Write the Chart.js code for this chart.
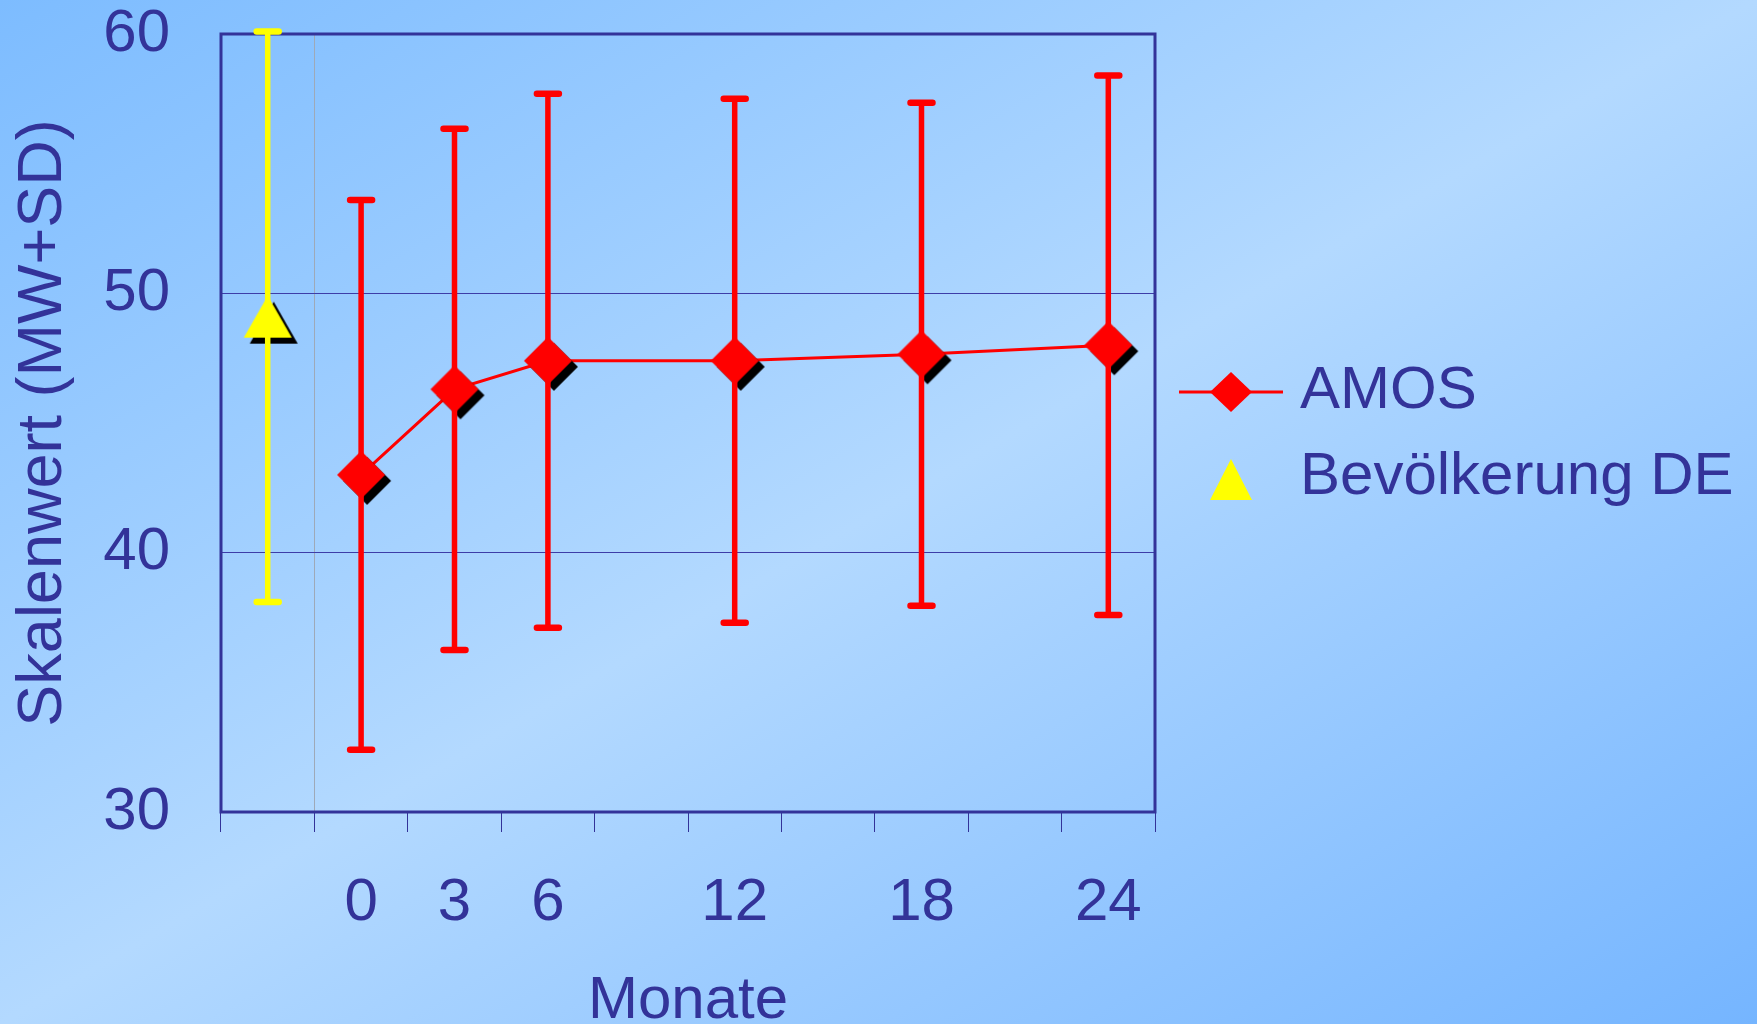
<!DOCTYPE html>
<html>
<head>
<meta charset="utf-8">
<script src="https://cdn.jsdelivr.net/npm/chart.js@4.4.1/dist/chart.umd.min.js"></script>
<style>
html, body { margin: 0; padding: 0; }
body {
    width: 1757px; height: 1024px; overflow: hidden;
    background: linear-gradient(to bottom right, #7dbcff 0%, #b3d9ff 50%, #75b5ff 100%);
}
</style>
</head>
<body>
<canvas id="chart-1" width="1757" height="1024"></canvas>
<script>
// x slots: the reference population sits left of the month grid
var slots = ["DE", "0", "3", "6", "9", "12", "15", "18", "21", "24"];
var months = ["0", "3", "6", "12", "18", "24"];
var amosMean = [43.0, 46.3, 47.4, 47.4, 47.65, 48.0];
var amosSD = [10.6, 10.05, 10.3, 10.1, 9.7, 10.4];
var deMean = [49.1];
var deSD = [11.0];
var yTicks = [30, 40, 50, 60];

var textColor = "#333399";
Chart.defaults.font.family = "'Liberation Sans', Arial, sans-serif";

// marker with a black drop shadow, drawn once and used as pointStyle
function marker(kind, fill) {
    var c = document.createElement("canvas");
    c.width = 72; c.height = 72;
    var g = c.getContext("2d");
    function shape(d) {
        g.beginPath();
        if (kind == "diamond") {
            g.moveTo(36 + d, 12 + d); g.lineTo(60 + d, 36 + d);
            g.lineTo(36 + d, 60 + d); g.lineTo(12 + d, 36 + d);
        } else {
            g.moveTo(36 + d, 15 + d); g.lineTo(60 + d, 57 + d); g.lineTo(12 + d, 57 + d);
        }
        g.closePath();
    }
    shape(6); g.fillStyle = "#000"; g.fill();
    shape(0); g.fillStyle = fill; g.fill();
    return c;
}

var framePlugin = {
    id: "frame",
    beforeDatasetsDraw: function(chart) {
        var a = chart.chartArea, ctx = chart.ctx;
        ctx.save();
        ctx.strokeStyle = textColor;
        ctx.lineWidth = 3;
        ctx.strokeRect(a.left, a.top, a.right - a.left, a.bottom - a.top);
        ctx.restore();
    }
};

var errorBars = {
    id: "errorBars",
    afterDatasetsDraw: function(chart) {
        var ctx = chart.ctx, ys = chart.scales.y;
        ctx.save();
        chart.data.datasets.forEach(function(ds, di) {
            chart.getDatasetMeta(di).data.forEach(function(pt, i) {
                var v = ds.data[i].y, s = ds.sd[i];
                var yt = ys.getPixelForValue(v + s);
                var yb = ys.getPixelForValue(v - s);
                ctx.strokeStyle = ds.barColor;
                ctx.lineCap = "butt";
                ctx.lineWidth = 5.5;
                ctx.beginPath();
                ctx.moveTo(pt.x, yt); ctx.lineTo(pt.x, yb);
                ctx.stroke();
                ctx.lineCap = "round";
                ctx.lineWidth = 6.5;
                ctx.beginPath();
                ctx.moveTo(pt.x - 11, yt); ctx.lineTo(pt.x + 11, yt);
                ctx.moveTo(pt.x - 11, yb); ctx.lineTo(pt.x + 11, yb);
                ctx.stroke();
            });
        });
        ctx.restore();
    }
};

var legendPlugin = {
    id: "sideLegend",
    afterDraw: function(chart) {
        var a = chart.chartArea, ctx = chart.ctx;
        var mx = a.right + 76;
        ctx.save();
        // AMOS: line with diamond
        var y1 = a.top + 358;
        ctx.strokeStyle = "#ff0000";
        ctx.lineWidth = 3;
        ctx.beginPath();
        ctx.moveTo(a.right + 24, y1); ctx.lineTo(a.right + 128, y1);
        ctx.stroke();
        ctx.fillStyle = "#ff0000";
        ctx.beginPath();
        ctx.moveTo(mx, y1 - 20); ctx.lineTo(mx + 21, y1);
        ctx.lineTo(mx, y1 + 20); ctx.lineTo(mx - 21, y1);
        ctx.closePath(); ctx.fill();
        // population: triangle
        var y2 = a.top + 446;
        ctx.fillStyle = "#ffff00";
        ctx.beginPath();
        ctx.moveTo(mx, y2 - 21); ctx.lineTo(mx + 21, y2 + 20); ctx.lineTo(mx - 21, y2 + 20);
        ctx.closePath(); ctx.fill();
        ctx.fillStyle = textColor;
        ctx.font = "60px 'Liberation Sans', Arial, sans-serif";
        ctx.textBaseline = "middle";
        ctx.textAlign = "left";
        ctx.fillText(chart.data.datasets[0].label, a.right + 145, a.top + 357);
        ctx.fillText(chart.data.datasets[1].label, a.right + 145, a.top + 443);
        ctx.restore();
    }
};

new Chart("chart-1", {
    type: "line",
    data: {
        labels: slots,
        datasets: [{
            label: "AMOS",
            data: months.map(function(m, i) { return { x: m, y: amosMean[i] }; }),
            sd: amosSD,
            barColor: "#ff0000",
            borderColor: "#ff0000",
            borderWidth: 3,
            tension: 0,
            pointStyle: marker("diamond", "#ff0000"),
            pointRadius: 24,
            clip: false
        }, {
            label: "Bevölkerung DE",
            data: [{ x: slots[0], y: deMean[0] }],
            sd: deSD,
            barColor: "#ffff00",
            showLine: false,
            pointStyle: marker("triangle", "#ffff00"),
            pointRadius: 24,
            clip: false
        }]
    },
    options: {
        responsive: false,
        animation: false,
        events: [],
        layout: { padding: { left: 0, right: 602, top: 34, bottom: 0 } },
        plugins: {
            legend: { display: false },
            tooltip: { enabled: false }
        },
        scales: {
            x: {
                type: "category",
                offset: true,
                border: { display: false },
                grid: {
                    offset: true,
                    color: function(c) { return c.index === 1 ? "#9ea9b8" : "rgba(0,0,0,0)"; },
                    tickColor: textColor,
                    tickLength: 20,
                    lineWidth: 1
                },
                ticks: {
                    autoSkip: false,
                    maxRotation: 0,
                    padding: 35,
                    color: textColor,
                    font: { size: 60, lineHeight: 1.2 },
                    callback: function(val) {
                        var l = this.getLabelForValue(val);
                        return months.indexOf(l) >= 0 ? l : "";
                    }
                },
                title: {
                    display: true,
                    text: "Monate",
                    color: textColor,
                    font: { size: 60, lineHeight: 1 },
                    padding: { top: 0, bottom: -7 }
                },
                afterFit: function(s) {
                    s.height = 212;
                    s.paddingLeft = 0; s.paddingRight = 0;
                }
            },
            y: {
                min: 30,
                max: 60,
                border: { display: false },
                grid: { color: "#3d3da8", lineWidth: 1, drawTicks: false },
                afterBuildTicks: function(s) {
                    s.ticks = yTicks.map(function(v) { return { value: v }; });
                },
                ticks: {
                    padding: 51,
                    color: textColor,
                    font: { size: 60, lineHeight: 1 }
                },
                title: {
                    display: true,
                    text: "Skalenwert (MW+SD)",
                    color: textColor,
                    font: { size: 63, lineHeight: 1.2 },
                    padding: { top: 6, bottom: 0 }
                },
                afterFit: function(s) {
                    s.width = 221;
                    s.paddingTop = 0; s.paddingBottom = 0;
                }
            }
        }
    },
    plugins: [framePlugin, errorBars, legendPlugin]
});
</script>
</body>
</html>
